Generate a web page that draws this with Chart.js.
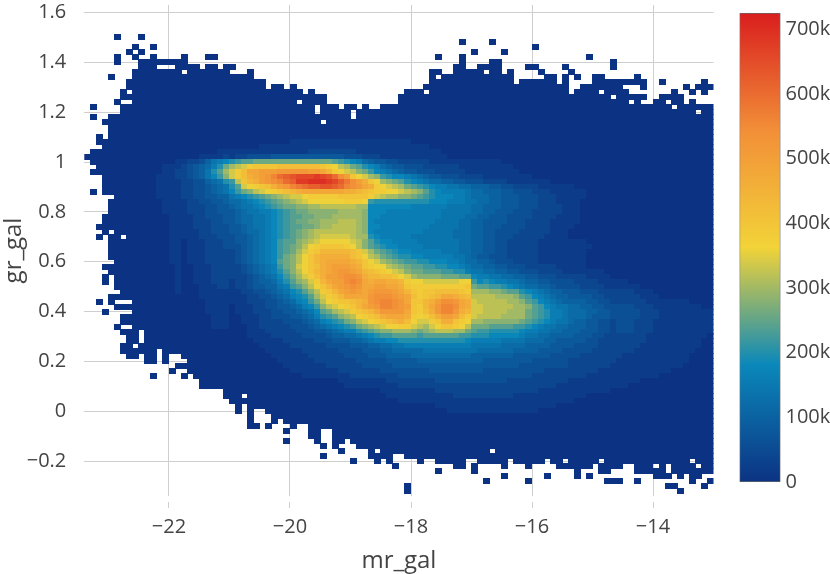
<!DOCTYPE html>
<html>
<head>
<meta charset="utf-8">
<script src="https://cdn.jsdelivr.net/npm/chart.js@4"></script>
<style>
  html, body { margin: 0; padding: 0; background: #fff; }
  #main { position: absolute; left: 0; top: 0; }
  #bar { position: absolute; left: 730px; top: 0; }
</style>
</head>
<body>
<canvas id="main" width="830" height="574"></canvas>
<canvas id="bar" width="100" height="574"></canvas>
<script>
const xTicks = [-22, -20, -18, -16, -14];
const xTickLabels = ["−22", "−20", "−18", "−16", "−14"];
const yTicks = [-0.2, 0, 0.2, 0.4, 0.6, 0.8, 1, 1.2, 1.4, 1.6];
const yTickLabels = ["−0.2", "0", "0.2", "0.4", "0.6", "0.8", "1", "1.2", "1.4", "1.6"];
const barTicks = [0, 100000, 200000, 300000, 400000, 500000, 600000, 700000];
const barTickLabels = ["0", "100k", "200k", "300k", "400k", "500k", "600k", "700k"];
const colorStops = [0, 181250, 362500, 543750, 725000];
const colorValues = [[12, 51, 131], [10, 136, 186], [242, 211, 56], [242, 143, 56], [217, 30, 30]];

// bins: first column centre, first row centre and their steps
const firstX = -23.35, stepX = 0.1;
const firstY = 1.64, stepY = -0.02;
const levelStep = 20000; // one character = 20k counts, 0-9 then a-z

// one string per row from the top, 13 groups of 8 columns
// "." empty cell, "_" whole group empty, "-" whole group at level 0
const heatRows = [
"", "", "", "", "", "", "",
".....0.. .0......",
"_ _ _ _ _ _ _ ......0. ...0....",
"_ 0..0.... _ _ _ _ _ _ _ ..0.....",
".......0 .0...... _ _ _ _ _ _ 0....0..",
".....0.. 0..0.... 0...00.. _ _ _ _ ..0...0. _ _ ...0....",
".....0.. .0000000 0....... _ _ _ _ ......0. ...00... _ .......0",
"_ .000...0 000.00.0 0....... _ _ _ .....00. .0000... .00....0 .......0",
"_ 00000000 .0000000 ...0.... _ _ _ .00..000 00.00.0. ...0.... 0.......",
"....0... - - 0000.... _ _ _ .0.00000 0000000. ....00.0 .0..00.. ...0....",
".......0 - - 000000.. _ _ _ .0000000 0000000. 000000.0 ....0000 00000..0 ......0.",
".......0 - - 000000.0 0.0..... _ _ - - - ..000000 0...0... ...0.000",
"......0. - - - 0000.0.. _ .....000 .0000000 - - .0000.00 00...... .0..0.0.",
"......00 - - - - _ ....0000 - - - 0000000. 00000..0 000.....",
".....0.. - - - 000.0000 _ ....0000 - - - - 00.0..00 .00.0...",
".0....00 - - - 000000.0 00.00.0. .0000000 - - - - - 0.000000",
"......00 - - - 000000.0 0000.000 - - - - - - 00000.00",
".0..0000 - - - - 0000.000 - - - - - - -",
"...00000 - - - 0000000. - - - - - - - -",
"....0000 - - - - - - - - - - - -",
"....0000 - - - - - - - - - - - -",
"..0.0000 - - - - - - - - - - - -",
"..000000 - - - 00111111 11111111 11111100 - - - - - -",
"...00000 - - 00000111 11111111 11111111 11111111 10000000 - - - - -",
".0000000 - 00000011 11111111 11111222 22222111 11111111 11100000 - - - - -",
"00000000 - 00011112 12233334 44444444 44433322 21111111 11110000 - - - - -",
".0000000 00000001 12235789 abccdddd dddddddd dcba9865 44332222 21111111 11111000 - - - -",
"..000000 00000111 234568ad fghjkkkk lllllllk jigfdca9 86544333 22222211 11111110 - - - -",
".0000000 00000112 23457acf hjlooppp qqqqqppo mjihgedb 98765443 33222221 11111111 - - - -",
"...00000 00001112 234579be hjlnopqs uvwxxxyx wurpkihf eba99876 54433322 22111111 11000000 - - -",
"...00000 00001111 2233567a bgkmnpqr suvyyzzz yxvtrpnk ifedca98 76655443 33222211 11111000 - - -",
"...00000 00001111 22334567 achijkln pqstuvvw wvusrqon jihgfdcb a9887766 55544332 22211111 10000000 - -",
".0.00000 00001111 22334567 9bdeghij klmnoooo ooonnmlk jjiihgfe ca988887 66555443 33222111 11100000 - -",
".....000 00001111 22334455 789abcde fghhijjj jjkkkkkj hgffeedc ba999887 66655444 33322211 11100000 - -",
"....0000 00000111 12233445 66789abc defghiii iiijjjib aaaaaaaa a9998887 76655444 33322211 11000000 - -",
"....0000 00000111 12223344 567789ab cddeeffg gggggff9 99999988 88887777 66555444 33322221 11000000 - -",
"....0000 00000111 12223344 45677889 abcddeee eeffffe9 99888888 88877777 66554443 33222221 11000000 - -",
"...00000 00000011 11223334 45667789 abccddee efffffe9 98888888 88877776 65544433 33222211 11000000 - -",
"...00000 00000011 11222334 45667789 abcddeef ffgggfe9 88888888 88777766 55444433 32222111 11000000 - -",
"..000000 00000011 11222333 44567789 abccddef fggggfe9 98888888 87777766 55444333 32222111 10000000 - -",
"...0.000 00000011 11122333 44566789 abcdefgg gggggfe9 88888888 77777666 55443333 22222111 - - -",
"..0.00.0 00000011 11122233 34456789 abcdefgh hhhhgffa 98888877 77777666 55443332 22221111 - - -",
"....0000 00000011 01112223 34456789 bccefghi iiiihgec a9988887 77777766 55443322 22211111 11100000 - -",
"....0000 00000011 01112223 33456789 bcdegijk kkkjigec ba998888 77777766 55443322 22211111 11110000 - -",
"....0000 00000011 01112222 23456789 bcdfhjkm mmmmlkhf dcba9988 88877766 55443322 22211111 11100000 - -",
"....0000 00000011 01112222 23456789 bdegikmn nnnnlkig fdcbaa99 88888776 54433322 22211111 11100000 - -",
".....000 00000011 01112222 23456789 cdegikmn oooonmki hfedcbba a9998876 65543332 22211111 11100000 - -",
"...00000 00000001 00111222 22345678 bdehikln oppponkj iigfedcc bbaa9987 66554433 32222211 11100000 - -",
"....0000 00000001 00111222 22345678 acegikmn opqqpoml kjihgedd cccbbaa8 77665544 33322221 11111100 - -",
"...0.000 00000001 00111222 22234567 9bdfhjln ppqrrqnm mllkihfe eeedddcc 98877665 54433322 22211110 - -",
"...0.000 00000001 00111222 12234556 8acefhjm opprsron oonnmjii hhhhhhii b9a98877 65544333 32222111 11000000 -",
".....000 00000001 00011122 12234455 78bcegik mopqrqoo ppoonkjj jjjjjjjk dccbba98 76655433 33222211 11110000 -",
"......00 00000001 00011111 11223345 679acegj kmopqpop qqqpomkj kkllllkj fffeedcc a9876554 44333222 22211100 -",
"....0000 - 00011111 11122334 5689acfh jkmooooq rrrqpolj klmoonml ggggfffe cb987655 44443322 22221110 -",
"..0.0... - 00001111 11122233 45689bdg ijkklmnq rssrqokk mnprrqon hgggggff ecb98765 55544332 22222111 11110000",
".....000 - 00001111 01112233 445689be ghijkmop qssrqpkj moqssron hhgggggf fecb9877 66554433 33322211 11111100",
"...0.... - 00001111 01112223 3445679c dfghjklm oqqqqokj lnqssqnm hhggggff fdcba887 66655443 33332221 11111111",
"......00 - 00000111 00111223 3344568a bcefgijk lnooonji jlnppolj hggggfff fdcba887 66654443 33332221 11111111",
"......00 - 00000111 00111222 23334568 9abdeghi jklmnlih hjknnkji ffeeeeee dcba9877 65544332 33322211 11111111",
".....0.. - 00000111 00011222 22333456 789abdef ghiijjhg fhikkjig dddccccb ba987766 55544332 33322211 11111111",
"......00 0.000000 - 00011122 22233344 56788abc deefffed efgggffd cbbaaaaa 98877665 55444332 33322211 11111111",
".......0 0.000000 - 00011112 22223333 45566789 abbccccb ccccccbb aaa99999 87766555 54443322 22222111 11111110",
".......0 0.000000 - 00001111 12222233 34445567 8899aaaa aaaaaaa9 88888777 76665544 44433222 22222111 11111100",
"......00 .0000000 - 00000111 11222222 33334445 56677888 88888888 77777666 65555444 43333222 22221111 11111100",
"......00 0000.000 - 00000011 11112222 22333344 45566666 77777777 76666665 55544443 33332222 22211111 11111000",
".......0 0.00.0.. - 00000001 11111222 22233334 44555566 66666666 55555554 44444333 33222222 21111111 11110000",
"_ ..00.0.. .0000000 00000000 11111122 22222333 33444445 55555555 55444444 44333333 22222222 11111111 11110000",
"_ .......0 - - 01111111 22222233 33344444 44444444 44444444 33333333 22222221 11111111 11100000",
"_ ......0. .0000000 - 00111111 11222222 23333333 34444444 44333333 33332222 22222111 11111111 10000000",
"_ ...0.... 0.000000 - 00001111 11112222 22223333 33333333 33333333 33222222 22211111 11111110 -",
"_ _ ...00000 - - 00111111 11222222 22333333 33333322 22222222 11111111 11110000 -",
"_ _ ...00000 - - 00011111 11112222 22222222 22222222 22222211 11111111 11000000 -",
"_ _ .......0 - - - 01111111 11222222 22222222 22211111 11111110 - -",
"_ _ .......0 00.00000 - - 00111111 11111222 22222221 11111111 11100000 - -",
"_ _ _ - - - 00001111 11111111 11111111 11111111 10000000 - -",
"_ _ _ .0.00000 - - - 00111111 11111111 11111100 - - -",
"_ _ _ .0.0..00 - - - 00001111 11111111 11100000 - - -",
"_ _ _ ...0...0 - - - - - - - - -",
"_ _ _ ...0...0 .0000000 - - - - - - - -",
"_ _ _ ...00.0. ..0..000 - - - - - - - -",
"_ _ _ _ .0...00. .0000000 - - - - - - -",
"_ _ _ _ .....00. .0000000 - - - - - - -",
"_ _ _ _ .0....0. .00.0000 - - - - - - -",
"_ _ _ _ .......0 .0...000 - - - - - - -",
"_ _ _ _ _ ..0....0 .0000000 - 000.0000 - - - -",
"_ _ _ _ .......0 .......0 000..000 - - - - - -",
"_ _ _ _ _ ....0... 0.0....0 ..00000. .00000.0 0000.00. 00000.00 - 0000.000",
"_ _ _ _ _ _ ...0.... .....00. 0....0.. .0....00 0000.000 0..000.0 .0000.00",
"_ _ _ _ _ _ _ ..0..... 0....... _ .0...00. ...00000 .0000000",
"_ _ _ _ _ _ _ _ .....0.. ....0... .0.0.... ......00 0.0.00..",
"_ _ _ _ _ _ _ _ ..0..... .0...... ......00 0..0.... ....0..0",
"_ _ _ _ _ _ .....0.. _ _ _ _ _ 00....0.",
"_ _ _ _ _ _ .....0.. _ _ _ _ _ ..0.....",
""
];

function colorFor(v) {
  let i = 0;
  while (i < colorStops.length - 2 && v > colorStops[i + 1]) i++;
  const t = Math.min(1, (v - colorStops[i]) / (colorStops[i + 1] - colorStops[i]));
  const c = colorValues[i].map((a, k) => Math.round(a + (colorValues[i + 1][k] - a) * t));
  return "rgb(" + c.join(",") + ")";
}

// a small filled canvas per level, used as the point style of a cell
const cellImages = {};
function cellImage(v) {
  if (!cellImages[v]) {
    const c = document.createElement("canvas");
    c.width = 7;
    c.height = 6;
    const g = c.getContext("2d");
    g.fillStyle = colorFor(v);
    g.fillRect(0, 0, 7, 6);
    cellImages[v] = c;
  }
  return cellImages[v];
}

const cells = [];
heatRows.forEach((row, r) => {
  const groups = row ? row.split(" ") : [];
  groups.forEach((g, k) => {
    if (g === "_") return;
    const text = g === "-" ? "00000000" : g;
    for (let p = 0; p < text.length; p++) {
      if (text[p] === ".") continue;
      cells.push({
        x: firstX + stepX * (k * 8 + p),
        y: firstY + stepY * r,
        v: parseInt(text[p], 36) * levelStep,
      });
    }
  });
});

const inkColor = "#444";
const gridColor = "#cfcfcf";

new Chart(document.getElementById("main"), {
  type: "scatter",
  data: {
    datasets: [{
      data: cells,
      pointRadius: 3,
      pointStyle: (ctx) => cellImage(ctx.raw ? ctx.raw.v : 0),
    }],
  },
  options: {
    responsive: false,
    animation: false,
    events: [],
    layout: { padding: { top: 1, right: 116.5, left: 0, bottom: 0 } },
    plugins: { legend: { display: false }, tooltip: { enabled: false } },
    scales: {
      x: {
        type: "linear",
        min: -23.4,
        max: -13,
        afterBuildTicks: (s) => { s.ticks = xTicks.map((value) => ({ value })); },
        afterFit: (s) => { s.height = 78; s.paddingLeft = 0; s.paddingRight = 0; },
        border: { display: false },
        grid: { color: gridColor, tickLength: 12, tickColor: gridColor, tickBorderDash: [0, 6, 6, 0] },
        ticks: {
          color: inkColor,
          font: { family: "'Open Sans'", size: 20 },
          padding: 7,
          maxRotation: 0,
          callback: (v) => xTickLabels[xTicks.indexOf(v)],
        },
        title: {
          display: true,
          text: "mr_gal",
          color: inkColor,
          font: { family: "'Open Sans'", size: 24 },
          padding: { top: 0, bottom: -2 },
        },
      },
      y: {
        type: "linear",
        min: -0.34,
        max: 1.63,
        afterBuildTicks: (s) => { s.ticks = yTicks.map((value) => ({ value })); },
        afterFit: (s) => { s.width = 84.3; s.paddingTop = 0; s.paddingBottom = 0; },
        border: { display: false },
        grid: { color: gridColor, drawTicks: false },
        ticks: {
          color: inkColor,
          font: { family: "'Open Sans'", size: 20 },
          padding: 18,
          callback: (v) => yTickLabels[yTicks.indexOf(v)],
        },
        title: {
          display: true,
          text: "gr_gal",
          color: inkColor,
          font: { family: "'Open Sans'", size: 24 },
          padding: { top: 0, bottom: 0 },
        },
      },
    },
  },
});

// colour bar: one floating bar with a gradient fill on its own value axis
new Chart(document.getElementById("bar"), {
  type: "bar",
  data: {
    labels: [""],
    datasets: [{
      data: [[colorStops[0], colorStops[4]]],
      barPercentage: 1,
      categoryPercentage: 1,
      borderColor: "#666",
      borderWidth: 1,
      borderSkipped: false,
      backgroundColor: (ctx) => {
        const area = ctx.chart.chartArea;
        if (!area) return colorFor(0);
        const grad = ctx.chart.ctx.createLinearGradient(0, area.bottom, 0, area.top);
        colorStops.forEach((v) => grad.addColorStop(v / colorStops[4], colorFor(v)));
        return grad;
      },
    }],
  },
  options: {
    responsive: false,
    animation: false,
    events: [],
    layout: { padding: { top: 13, bottom: 92, left: 9.5, right: 0 } },
    plugins: { legend: { display: false }, tooltip: { enabled: false } },
    scales: {
      x: { display: false },
      y: {
        position: "right",
        min: 0,
        max: colorStops[4],
        afterBuildTicks: (s) => { s.ticks = barTicks.map((value) => ({ value })); },
        afterFit: (s) => { s.width = 49.5; s.paddingTop = 0; s.paddingBottom = 0; },
        border: { display: false },
        grid: { display: false, drawTicks: false },
        ticks: {
          color: inkColor,
          font: { family: "'Open Sans'", size: 20 },
          padding: 5,
          callback: (v) => barTickLabels[barTicks.indexOf(v)],
        },
      },
    },
  },
});
</script>
</body>
</html>
